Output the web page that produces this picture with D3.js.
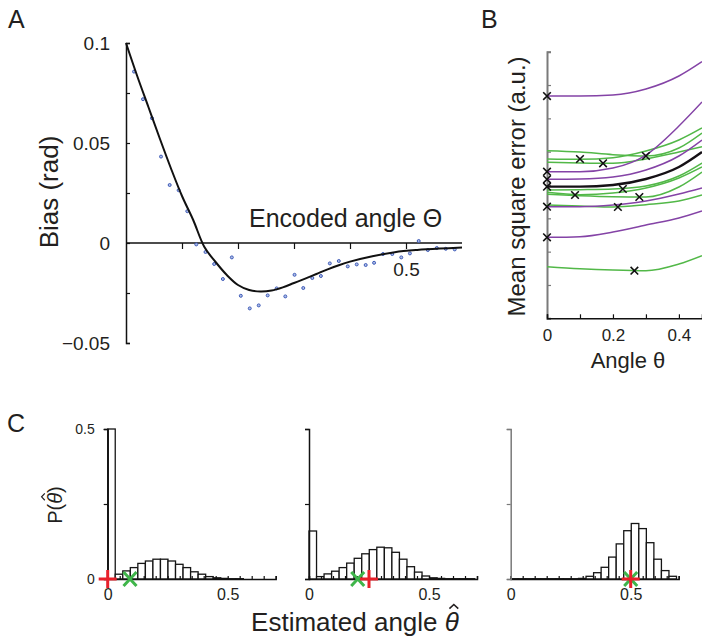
<!DOCTYPE html>
<html>
<head>
<meta charset="utf-8">
<script src="https://cdn.jsdelivr.net/npm/d3@7"></script>
<style>
  body { margin: 0; background: #fff; }
  svg { font-family: "Liberation Sans", Arial, sans-serif; }
</style>
</head>
<body>
<svg id="chart" width="702" height="642"></svg>
<script>
// Panel A: bias vs encoded angle
const biasX = [0.0143, 0.0304, 0.0464, 0.0625, 0.078, 0.094, 0.1095, 0.1255, 0.142, 0.1575, 0.173, 0.189,
  0.205, 0.221, 0.237, 0.253, 0.269, 0.2845, 0.301, 0.3166, 0.3327, 0.348, 0.364, 0.38, 0.396, 0.412,
  0.428, 0.443, 0.459, 0.4755, 0.4916, 0.507, 0.5227, 0.539, 0.555, 0.571, 0.587];
const biasY = [0.0857, 0.0719, 0.0624, 0.0432, 0.029, 0.0264, 0.0159, -0.0007, -0.0045, -0.0105, -0.018, -0.0072,
  -0.0264, -0.0327, -0.0312, -0.0262, -0.0227, -0.0267, -0.0159, -0.0225, -0.0175, -0.0165, -0.0102, -0.009, -0.0117, -0.0107,
  -0.011, -0.0099, -0.0055, -0.0055, -0.0072, -0.0052, 0.001, -0.0035, -0.0025, -0.0029, -0.0032];
const fitX = [0, 0.02, 0.04, 0.06, 0.08, 0.10, 0.12, 0.14, 0.16, 0.18, 0.20, 0.22, 0.24, 0.26, 0.28, 0.30,
  0.32, 0.34, 0.36, 0.38, 0.40, 0.44, 0.48, 0.52, 0.56, 0.60];
const fitY = [0.1, 0.0835, 0.068, 0.0525, 0.0375, 0.0235, 0.0115, -0.002, -0.0095, -0.016, -0.021, -0.0235, -0.0243,
  -0.0238, -0.0222, -0.02, -0.0178, -0.0155, -0.0132, -0.0111, -0.0093, -0.0066, -0.0046, -0.0035, -0.0028, -0.0023];
const biasTicks = [-0.05, -0.025, 0, 0.025, 0.05, 0.075, 0.1];
const biasLabels = [-0.05, 0, 0.05, 0.1];
const angleTicksA = [0.1, 0.2, 0.3, 0.4, 0.5];

// Panel B: mean square error vs angle
const mseX = [0, 0.1, 0.2, 0.3, 0.4, 0.47];
const purpleCurves = [
  [6.67, 6.67, 6.70, 6.88, 7.27, 7.70],
  [4.40, 4.40, 4.51, 4.90, 5.77, 6.49],
  [4.17, 4.18, 4.24, 4.45, 4.87, 5.35],
  [3.35, 3.35, 3.40, 3.52, 3.73, 3.91],
  [2.43, 2.45, 2.59, 2.80, 3.01, 3.22]
];
const greenCurves = [
  [5.03, 4.99, 4.91, 4.87, 5.11, 5.56],
  [4.78, 4.77, 4.82, 5.02, 5.35, 5.71],
  [4.68, 4.66, 4.65, 4.78, 4.99, 5.15],
  [3.85, 3.86, 3.88, 3.97, 4.27, 4.66],
  [3.78, 3.71, 3.76, 3.91, 4.21, 4.54],
  [3.72, 3.68, 3.65, 3.64, 3.94, 4.39],
  [3.40, 3.37, 3.34, 3.41, 3.52, 3.70],
  [1.55, 1.49, 1.45, 1.43, 1.63, 1.88]
];
const blackCurve = [3.95, 3.95, 4.00, 4.18, 4.54, 4.99];
const minX = [0, 0, 0, 0, 0, 0, 0.1, 0.17, 0.3, 0.085, 0.23, 0.28, 0.215, 0.265];
const minY = [6.67, 4.40, 4.17, 3.95, 3.35, 2.43, 4.78, 4.65, 4.87, 3.70, 3.88, 3.64, 3.34, 1.43];
const mseTicksX = [0, 0.1, 0.2, 0.3, 0.4];
const mseTicksY = [0, 1, 2, 3, 4, 5, 6, 7, 8];

// Panel C: histograms of estimated angle
const binWidth = 0.0314;
const histLow = [0.5, 0.016, 0.027, 0.038, 0.052, 0.060, 0.066, 0.066, 0.060, 0.049, 0.038, 0.024,
  0.016, 0.008, 0.004, 0.002, 0.001, 0.001];
const histMid = [0.160, 0.008, 0.017, 0.026, 0.038, 0.053, 0.069, 0.084, 0.098, 0.106, 0.104, 0.089,
  0.066, 0.041, 0.023, 0.010, 0.004, 0.002, 0.001, 0.001, 0.001, 0.001];
const histHigh = [0.001, 0.001, 0.001, 0.001, 0.001, 0.001, 0.001, 0.001, 0.001, 0.002, 0.009, 0.021,
  0.039, 0.073, 0.117, 0.161, 0.185, 0.168, 0.121, 0.066, 0.028, 0.009];
const trueAngles = [0, 0.25, 0.5];
const meanEstimates = [0.093, 0.203, 0.5];
const histTicksX = d3.range(15).map(i => i / 20);

const textColor = "#231f20";
const purple = "#8443a6";
const green = "#52b848";
const svg = d3.select("#chart");

function styleAxis(g, size, color) {
  g.attr("font-family", "Liberation Sans, Arial, sans-serif").attr("font-size", size);
  g.select(".domain").attr("stroke", color || "#111").attr("stroke-width", 1.5);
  g.selectAll(".tick line").attr("stroke", color || "#111").attr("stroke-width", 1.2);
  g.selectAll(".tick text").attr("fill", textColor);
}

// draws a circumflex over one character of a text (theta hat)
function addHat(parent, text, index, size, slant) {
  const box = text.node().getExtentOfChar(index);
  const cx = box.x + box.width / 2 + slant;
  const baseline = +text.attr("y") || 0;
  const top = baseline - size * 0.86;
  parent.append("path")
    .attr("d", `M${cx - size * 0.17},${top}L${cx},${top - size * 0.16}L${cx + size * 0.17},${top}`)
    .attr("fill", "none")
    .attr("stroke", textColor)
    .attr("stroke-width", size * 0.06);
}

// ---------- A ----------
const xA = d3.scaleLinear().domain([0, 0.6]).range([126, 462]);
const yA = d3.scaleLinear().domain([-0.05, 0.1]).range([343, 43]);

svg.append("g")
  .attr("transform", `translate(${xA(0)},0)`)
  .call(d3.axisLeft(yA).tickValues(biasTicks).tickSize(-4).tickPadding(16)
    .tickFormat(d => biasLabels.includes(d) ? d3.format("")(d) : ""))
  .call(g => styleAxis(g, 19));

svg.append("g")
  .attr("transform", `translate(0,${yA(0)})`)
  .call(d3.axisBottom(xA).tickValues(angleTicksA).tickSize(6).tickPadding(14)
    .tickFormat(d => d === 0.5 ? "0.5" : ""))
  .call(g => g.select(".domain").attr("d", `M${xA(0)},0H${xA(0.6)}`))
  .call(g => styleAxis(g, 19));

svg.append("g")
  .selectAll("circle")
  .data(biasX.map((x, i) => [x, biasY[i]]))
  .join("circle")
  .attr("cx", d => xA(d[0]))
  .attr("cy", d => yA(d[1]))
  .attr("r", 1.5)
  .attr("fill", "#aebde8")
  .attr("stroke", "#3f5cb8")
  .attr("stroke-width", 1);

svg.append("path")
  .datum(fitX.map((x, i) => [x, fitY[i]]))
  .attr("fill", "none")
  .attr("stroke", "#111")
  .attr("stroke-width", 2)
  .attr("d", d3.line().x(d => xA(d[0])).y(d => yA(d[1])).curve(d3.curveCatmullRom));

svg.append("text").attr("x", 249).attr("y", 227).attr("font-size", 25).attr("fill", textColor)
  .text("Encoded angle \u0398");
svg.append("text").attr("transform", "translate(58,192) rotate(-90)").attr("text-anchor", "middle")
  .attr("font-size", 26).attr("fill", textColor).text("Bias (rad)");
svg.append("text").attr("x", 8).attr("y", 28).attr("font-size", 25).attr("fill", textColor).text("A");

// ---------- B ----------
const xB = d3.scaleLinear().domain([0, 0.47]).range([547, 702]);
const yB = d3.scaleLinear().domain([0, 8]).range([318.3, 51.7]);
const mseLine = d3.line().x((d, i) => xB(mseX[i])).y(d => yB(d)).curve(d3.curveMonotoneX);

svg.append("g")
  .attr("transform", `translate(${xB(0)},0)`)
  .call(d3.axisLeft(yB).tickValues(mseTicksY).tickSize(-4).tickFormat(""))
  .call(g => styleAxis(g, 17, "#7a7a7a"))
  .call(g => g.select(".domain").attr("stroke-width", 2));

svg.append("g")
  .attr("transform", `translate(0,${yB(0)})`)
  .call(d3.axisBottom(xB).tickValues(mseTicksX).tickSize(-4).tickPadding(11)
    .tickFormat((d, i) => i % 2 === 0 ? d3.format("")(d) : ""))
  .call(g => styleAxis(g, 17));

svg.append("g")
  .selectAll("path")
  .data(greenCurves)
  .join("path")
  .attr("fill", "none")
  .attr("stroke", green)
  .attr("stroke-width", 1.5)
  .attr("d", mseLine);

svg.append("g")
  .selectAll("path")
  .data(purpleCurves)
  .join("path")
  .attr("fill", "none")
  .attr("stroke", purple)
  .attr("stroke-width", 1.5)
  .attr("d", mseLine);

svg.append("path")
  .datum(blackCurve)
  .attr("fill", "none")
  .attr("stroke", "#151015")
  .attr("stroke-width", 2.4)
  .attr("d", mseLine);

svg.append("g")
  .selectAll("path")
  .data(minX.map((x, i) => [x, minY[i]]))
  .join("path")
  .attr("d", d => {
    const cx = xB(d[0]), cy = yB(d[1]), s = 3.8;
    return `M${cx - s},${cy - s}L${cx + s},${cy + s}M${cx - s},${cy + s}L${cx + s},${cy - s}`;
  })
  .attr("stroke", "#111")
  .attr("stroke-width", 1.6);

svg.append("text").attr("x", 628).attr("y", 368).attr("text-anchor", "middle").attr("font-size", 22)
  .attr("fill", textColor).text("Angle \u03b8");
svg.append("text").attr("transform", "translate(525,186.5) rotate(-90)").attr("text-anchor", "middle")
  .attr("font-size", 24).attr("fill", textColor).text("Mean square error (a.u.)");
svg.append("text").attr("x", 481).attr("y", 28).attr("font-size", 25).attr("fill", textColor).text("B");

// ---------- C ----------
const panelLeft = [107.7, 309, 510.7];
const histograms = [histLow, histMid, histHigh];

histograms.forEach((hist, k) => {
  const x = d3.scaleLinear().domain([0, 0.7]).range([panelLeft[k], panelLeft[k] + 168]);
  const y = d3.scaleLinear().domain([0, 0.5]).range([579, 429]);
  const g = svg.append("g");

  g.append("g")
    .selectAll("rect")
    .data(hist)
    .join("rect")
    .attr("x", (d, i) => x(i * binWidth))
    .attr("y", d => y(d))
    .attr("width", x(binWidth) - x(0))
    .attr("height", d => y(0) - y(d))
    .attr("fill", "#fff")
    .attr("stroke", "#151515")
    .attr("stroke-width", 1.3);

  g.append("g")
    .attr("transform", `translate(0,${y(0)})`)
    .call(d3.axisBottom(x).tickValues(histTicksX).tickSize(-3).tickPadding(10)
      .tickFormat(d => d === 0 ? "0" : d === 0.5 ? "0.5" : ""))
    .call(a => styleAxis(a, 16));

  g.append("g")
    .attr("transform", `translate(${x(0)},0)`)
    .call(d3.axisLeft(y).tickValues([0, 0.25, 0.5]).tickSize(4).tickPadding(9)
      .tickFormat(d => k === 0 && d !== 0.25 ? d3.format("")(d) : ""))
    .call(a => styleAxis(a, 14, k === 2 ? "#7a7a7a" : "#111"));

  const mx = x(meanEstimates[k]), tx = x(trueAngles[k]), cy = y(0);
  g.append("path")
    .attr("d", `M${mx - 6.5},${cy - 7}L${mx + 6.5},${cy + 7}M${mx - 6.5},${cy + 7}L${mx + 6.5},${cy - 7}`)
    .attr("stroke", "#3fb54a").attr("stroke-width", 3);
  g.append("path")
    .attr("d", `M${tx - 9},${cy}H${tx + 9}M${tx},${cy - 9}V${cy + 9}`)
    .attr("stroke", "#e8202a").attr("stroke-width", 3);
});

svg.append("text").attr("x", 7).attr("y", 432).attr("font-size", 25).attr("fill", textColor).text("C");

const pLabel = svg.append("g").attr("transform", "translate(62,505) rotate(-90)");
const pText = pLabel.append("text").attr("x", 0).attr("y", 0).attr("text-anchor", "middle")
  .attr("font-size", 20).attr("fill", textColor)
  .call(t => {
    t.append("tspan").text("P(");
    t.append("tspan").attr("font-style", "italic").text("\u03b8");
    t.append("tspan").text(")");
  });
addHat(pLabel, pText, 2, 20, 1.5);

const xLabel = svg.append("g");
const xText = xLabel.append("text").attr("x", 355).attr("y", 631).attr("text-anchor", "middle")
  .attr("font-size", 26).attr("fill", textColor)
  .call(t => {
    t.append("tspan").text("Estimated angle ");
    t.append("tspan").attr("font-style", "italic").text("\u03b8");
  });
addHat(xLabel, xText, 16, 26, 2);
</script>
</body>
</html>
